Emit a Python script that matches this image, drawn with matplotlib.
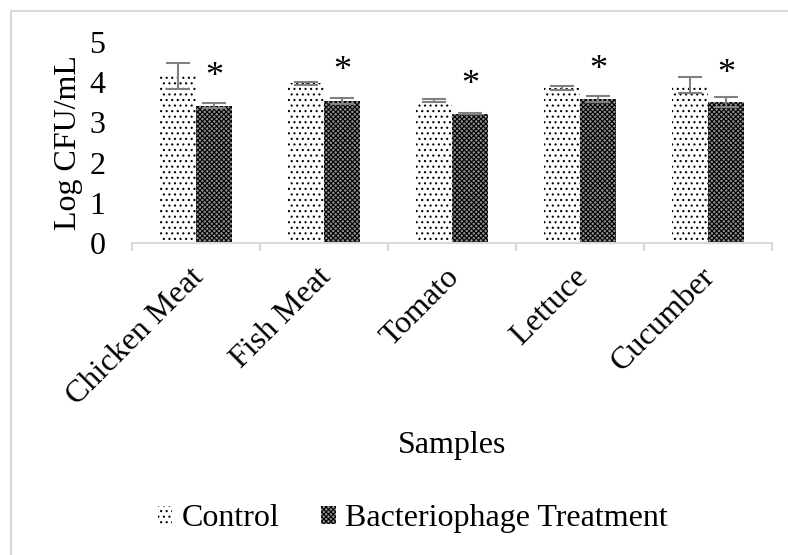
import numpy as np
import matplotlib.pyplot as plt
from matplotlib.patches import Rectangle
import matplotlib.transforms as mtransforms

plt.rcParams['font.family'] = ['Liberation Serif', 'DejaVu Serif']
plt.rcParams['hatch.linewidth'] = 0.8

# data
samples = ['Chicken Meat', 'Fish Meat', 'Tomato', 'Lettuce', 'Cucumber']
control = [4.16, 3.97, 3.54, 3.85, 3.93]
control_err = [0.32, 0.03, 0.03, 0.05, 0.19]
treatment = [3.42, 3.54, 3.22, 3.58, 3.51]
treatment_err = [0.07, 0.07, 0.02, 0.08, 0.12]
star_y = [4.23, 4.39, 4.05, 4.40, 4.32]  # where the significance marks sit

fs = 23
grey = '#d9d9d9'

fig = plt.figure(figsize=(7.88, 5.55), dpi=100)
ax = fig.add_axes([0.1675, 0.5622, 0.8122, 0.3621])

x = np.arange(len(samples))
w = 0.281
ax.bar(x - w / 2, control, w, color='white', edgecolor='black', hatch='...', linewidth=0,
       label='Control')
ax.bar(x + w / 2, treatment, w, color='#909090', edgecolor='black', hatch='xxxxxxx', linewidth=0,
       label='Bacteriophage Treatment')
ax.errorbar(x - w / 2, control, yerr=control_err, fmt='none', ecolor='#808080',
            elinewidth=1.5, capsize=8.5, capthick=1.5)
ax.errorbar(x + w / 2, treatment, yerr=treatment_err, fmt='none', ecolor='#808080',
            elinewidth=1.5, capsize=8.5, capthick=1.5)

for xi, yi in zip(x, star_y):
    ax.text(xi + w / 2, yi - 0.12, '*', ha='center', va='center', fontsize=26)

ax.set_xlim(-0.5, len(samples) - 0.5)
ax.set_ylim(0, 5)
ax.set_yticks(range(6))
ax.tick_params(axis='y', length=0, pad=19, labelsize=fs)

ax.set_xticks(x)
ax.set_xticklabels(samples, rotation=45, ha='right', va='top', rotation_mode='anchor', fontsize=fs)
ax.tick_params(axis='x', which='major', length=0, pad=14)
shift = mtransforms.ScaledTranslation(-0.07, 0, fig.dpi_scale_trans)
for lbl in ax.get_xticklabels():
    lbl.set_transform(lbl.get_transform() + shift)
ax.set_xticks(np.arange(-0.5, len(samples)), minor=True)
ax.tick_params(axis='x', which='minor', length=6, width=1.5, color=grey)

for s in ['top', 'right', 'left']:
    ax.spines[s].set_visible(False)
ax.spines['bottom'].set_color(grey)
ax.spines['bottom'].set_linewidth(1.5)

ax.set_ylabel('Log CFU/mL', fontsize=fs)
ax.yaxis.set_label_coords(-0.077, 0.5)
ax.set_xlabel('Samples', fontsize=fs)
ax.xaxis.set_label_coords(0.5, -1.045)
ax.xaxis.label.set_va('baseline')

fig.legend(loc='center', bbox_to_anchor=(0.524, 0.065), ncol=2, frameon=False, fontsize=fs,
           handlelength=0.45, handleheight=0.45, handletextpad=0.3, columnspacing=1.3)

fig.add_artist(Rectangle((0.014, -0.1), 1.1, 1.08, transform=fig.transFigure,
                         fill=False, edgecolor=grey, linewidth=1.5))

fig.savefig('out.png', dpi=100)
